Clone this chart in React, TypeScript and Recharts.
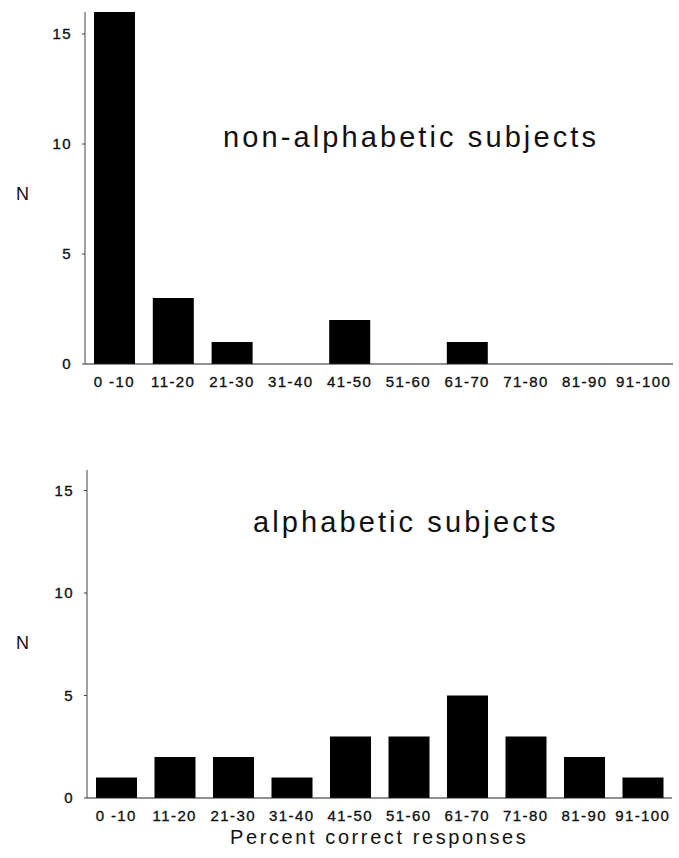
import React from "react";
import { BarChart, Bar, XAxis, YAxis } from "recharts";

const categories = ["0 -10", "11-20", "21-30", "31-40", "41-50", "51-60", "61-70", "71-80", "81-90", "91-100"];
const nonAlphabetic = [16, 3, 1, 0, 2, 0, 1, 0, 0, 0];
const alphabetic = [1, 2, 2, 1, 3, 3, 5, 3, 2, 1];
const yTicks = [0, 5, 10, 15];

const topData = categories.map((c, i) => ({ cat: c, n: nonAlphabetic[i] }));
const bottomData = categories.map((c, i) => ({ cat: c, n: alphabetic[i] }));

const FONT = "'Liberation Sans', Arial, Helvetica, sans-serif";
const tickStyle = { fontSize: 15, fill: "#111", fontFamily: FONT, letterSpacing: 1.4, stroke: "#111", strokeWidth: 0.35 };

function Panel({ data, top, height, left, right, xh }: any) {
  return (
    <div style={{ position: "absolute", left: 0, top }}>
      <BarChart
        width={679}
        height={height}
        data={data}
        margin={{ top: 12, right, left: left - 40, bottom: 0 }}
        barCategoryGap={9}
      >
        <XAxis
          dataKey="cat"
          height={xh}
          interval={0}
          tickLine={false}
          axisLine={{ stroke: "#222", strokeWidth: 1.2 }}
          tick={tickStyle}
          tickMargin={6}
        />
        <YAxis
          width={40}
          domain={[0, 16]}
          ticks={yTicks}
          allowDataOverflow
          axisLine={{ stroke: "#444", strokeWidth: 1 }}
          tickLine={{ stroke: "#444" }}
          tickSize={3}
          tickMargin={10}
          tick={tickStyle}
        />
        <Bar dataKey="n" fill="#000" isAnimationActive={false} />
      </BarChart>
    </div>
  );
}

const label: React.CSSProperties = {
  position: "absolute",
  fontFamily: FONT,
  color: "#111",
  whiteSpace: "nowrap",
};

export default function App() {
  return (
    <div style={{ position: "fixed", left: 0, top: 0, width: 679, height: 858, background: "#fff", overflow: "hidden" }}>
      <Panel data={topData} top={0} height={400} left={85} right={6} xh={36} />
      <Panel data={bottomData} top={458} height={376} left={87} right={7} xh={36} />
      <div style={{ ...label, left: 223, top: 121, fontSize: 29, letterSpacing: 3.1 }}>non-alphabetic subjects</div>
      <div style={{ ...label, left: 253, top: 506, fontSize: 29, letterSpacing: 3.1 }}>alphabetic subjects</div>
      <div style={{ ...label, left: 16, top: 184, fontSize: 18 }}>N</div>
      <div style={{ ...label, left: 16, top: 633, fontSize: 18 }}>N</div>
      <div style={{ ...label, left: 230, top: 826, fontSize: 20, letterSpacing: 2.6 }}>Percent correct responses</div>
    </div>
  );
}
